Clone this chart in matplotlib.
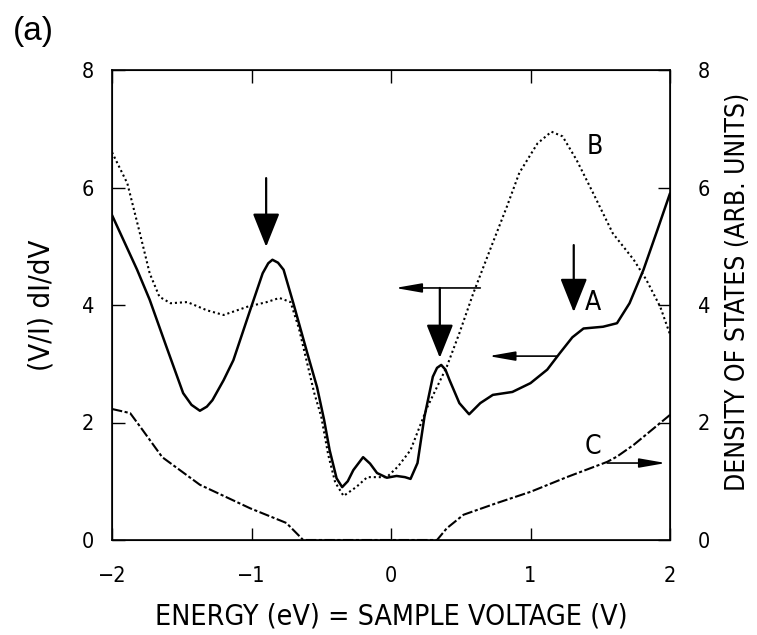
import matplotlib
matplotlib.use("Agg")
import matplotlib.pyplot as plt

# ---- data ----
A_x = [-2.0, -1.82, -1.73, -1.61, -1.49, -1.43, -1.37, -1.32, -1.28, -1.2, -1.13, -1.01,
       -0.92, -0.88, -0.85, -0.81, -0.77, -0.70, -0.60, -0.53, -0.48, -0.44, -0.39, -0.35,
       -0.31, -0.27, -0.20, -0.15, -0.10, -0.03, 0.04, 0.10, 0.14, 0.19, 0.24, 0.30, 0.33,
       0.36, 0.39, 0.42, 0.49, 0.56, 0.64, 0.73, 0.87, 1.0, 1.12, 1.21, 1.30, 1.38, 1.52,
       1.62, 1.71, 1.81, 1.91, 2.0]
A_y = [5.53, 4.6, 4.09, 3.29, 2.5, 2.3, 2.2, 2.27, 2.38, 2.72, 3.06, 3.91,
       4.54, 4.71, 4.77, 4.72, 4.6, 4.03, 3.18, 2.6, 2.05, 1.53, 1.05, 0.9,
       1.0, 1.19, 1.41, 1.3, 1.14, 1.06, 1.09, 1.07, 1.04, 1.31, 2.1, 2.78, 2.93,
       2.98, 2.9, 2.72, 2.33, 2.14, 2.33, 2.47, 2.52, 2.67, 2.9, 3.18, 3.45, 3.6, 3.63,
       3.69, 4.03, 4.6, 5.28, 5.9]

B_x = [-2.0, -1.89, -1.8, -1.73, -1.66, -1.58, -1.46, -1.32, -1.2, -1.03, -0.89, -0.80,
       -0.72, -0.66, -0.60, -0.55, -0.50, -0.45, -0.40, -0.34, -0.25, -0.17, -0.03, 0.05,
       0.14, 0.26, 0.40, 0.49, 0.59, 0.71, 0.83, 0.92, 1.05, 1.15, 1.23, 1.33, 1.45, 1.59,
       1.74, 1.83, 1.93, 2.0]
B_y = [6.6, 6.07, 5.22, 4.54, 4.14, 4.03, 4.05, 3.91, 3.83, 3.97, 4.05, 4.12,
       4.05, 3.6, 3.0, 2.5, 2.1, 1.45, 0.98, 0.75, 0.9, 1.07, 1.07, 1.25,
       1.53, 2.26, 2.95, 3.52, 4.2, 4.94, 5.67, 6.25, 6.75, 6.95, 6.87, 6.47, 5.9, 5.22,
       4.77, 4.43, 3.97, 3.5]

C_x = [-2.0, -1.87, -1.78, -1.64, -1.37, -1.01, -0.75, -0.65, -0.63, 0.33, 0.40, 0.52,
       0.76, 1.0, 1.26, 1.55, 1.62, 1.74, 1.98, 2.0]
C_y = [2.23, 2.16, 1.87, 1.41, 0.94, 0.54, 0.29, 0.05, 0.0, 0.0, 0.2, 0.43,
       0.63, 0.82, 1.07, 1.33, 1.42, 1.62, 2.09, 2.13]

x_ticks = [-2, -1, 0, 1, 2]
y_ticks = [0, 2, 4, 6, 8]

# big downward arrows: (x, tail_y, tip_y)
down_arrows = [(-0.895, 6.16, 4.99), (0.35, 4.29, 3.10), (1.31, 5.02, 3.88)]
# thin horizontal arrows: (tail_x, tip_x, y)
side_arrows = [(0.64, 0.03, 4.29), (1.19, 0.70, 3.13), (1.55, 1.97, 1.31)]
curve_labels = [("B", 1.46, 6.69), ("A", 1.45, 4.03), ("C", 1.45, 1.58)]

plt.rcParams["font.family"] = ["DejaVu Sans"]
plt.rcParams["font.stretch"] = "condensed"
plt.rcParams["axes.unicode_minus"] = True

fig = plt.figure(figsize=(7.57, 6.35), dpi=100)
ax = fig.add_axes([112/757, 1-540/635, 558/757, 470/635])

ax.plot(A_x, A_y, color="black", lw=1.8, solid_capstyle="round", solid_joinstyle="round")
ax.plot(B_x, B_y, color="black", lw=1.5, linestyle=(0, (1, 1.4)))
ax.plot(C_x, C_y, color="black", lw=1.5, linestyle=(0, (5, 1.2, 1.5, 1.2)))

for x, y0, y1 in down_arrows:
    ax.annotate("", xy=(x, y1), xytext=(x, y0),
                arrowprops=dict(arrowstyle="-|>,head_length=1.05,head_width=0.42",
                                lw=1.6, color="black", shrinkA=0, shrinkB=0,
                                mutation_scale=20))
for x0, x1, y in side_arrows:
    ax.annotate("", xy=(x1, y), xytext=(x0, y),
                arrowprops=dict(arrowstyle="-|>,head_length=1.6,head_width=0.28",
                                lw=1.2, color="black", shrinkA=0, shrinkB=0,
                                mutation_scale=10))
for t, x, y in curve_labels:
    ax.text(x, y, t, fontsize=19, ha="center", va="center")

ax.set_xlim(-2, 2)
ax.set_ylim(0, 8)
ax.set_xticks(x_ticks)
ax.set_yticks(y_ticks)
ax.tick_params(direction="in", length=9, width=1.0, top=True, labelsize=15.5)
ax.tick_params(axis="x", pad=19)
ax.tick_params(axis="y", pad=13)
for s in ax.spines.values():
    s.set_linewidth(1.2)

ax2 = ax.twinx()
ax2.set_ylim(0, 8)
ax2.set_yticks(y_ticks)
ax2.tick_params(direction="in", length=9, width=1.0, labelsize=15.5, pad=20)

ax.set_xlabel("ENERGY (eV) = SAMPLE VOLTAGE (V)", fontsize=20.5)
ax.xaxis.set_label_coords(0.5, -0.134)
ax.set_ylabel("(V/I) dI/dV", fontsize=21)
ax.yaxis.set_label_coords(-0.102, 0.5)
ax2.set_ylabel("DENSITY OF STATES (ARB. UNITS)", fontsize=19)
ax2.yaxis.set_label_coords(1.0986, 0.528)

fig.text(13/757, 1-31.5/635, "(a)", fontsize=24, ha="left", va="center",
         family=["Liberation Sans", "DejaVu Sans"], stretch="normal")

fig.savefig("out.png", dpi=100)
